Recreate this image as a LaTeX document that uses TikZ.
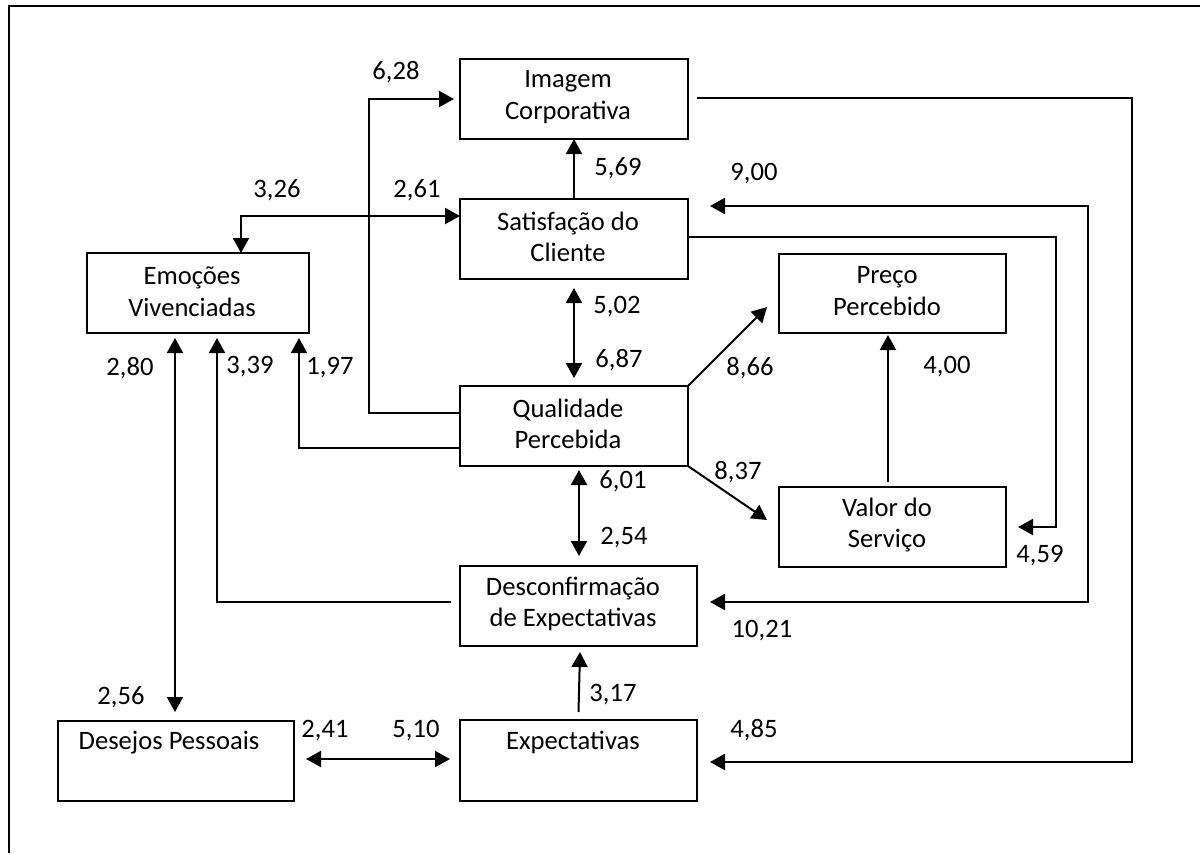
\documentclass[tikz,border=0pt]{standalone}
\usepackage{fontspec}
\setmainfont{Carlito}
\usetikzlibrary{arrows.meta,calc}
\begin{document}
\begin{tikzpicture}[x=0.5pt,y=-0.5pt,
  box/.style={draw, line width=1.2pt, inner sep=0pt, outer sep=0pt},
  wh/.style 2 args={minimum width=#1*0.5pt, minimum height=#2*0.5pt},
  txt/.style={align=center, inner sep=0pt, font=\fontsize{13.3pt}{15.8pt}\selectfont},
  lbl/.style={inner sep=0pt, font=\fontsize{13.3pt}{15.8pt}\selectfont},
  conn/.style={line width=1pt},
  arr/.style={conn, -{Triangle[length=7.5pt,width=8pt]}},
  arrtwo/.style={conn, {Triangle[length=7.5pt,width=8pt]}-{Triangle[length=7.5pt,width=8pt]}}
]
\useasboundingbox (0,0) rectangle (1200,853);
% frame
\draw[line width=0.8pt] (9,853) -- (9,6) -- (1200,6);
% boxes
\node[box, wh={228}{80}] (img) at (574,99) {};
\node[box, wh={228}{80}] (sat) at (574,239) {};
\node[box, wh={222}{80}] (emo) at (198,293) {};
\node[box, wh={227}{79}] (pre) at (892.5,293.5) {};
\node[box, wh={228}{80}] (qual) at (574,426) {};
\node[box, wh={227}{80}] (val) at (892.5,527) {};
\node[box, wh={237}{80}] (desc) at (578.5,606) {};
\node[box, wh={236}{80}] (des) at (176,761) {};
\node[box, wh={237}{81}] (exp) at (578.5,760.5) {};
% box texts
\node[txt] (imgt) at (568,97) {Imagem\\Corporativa};
\node[txt] (satt) at (568,237) {Satisfação do\\Cliente};
\node[txt] (emot) at (192,292) {Emoções\\Vivenciadas};
\node[txt] (pret) at (887,291) {Preço\\Percebido};
\node[txt] (qualt) at (568,424) {Qualidade\\Percebida};
\node[txt] (valt) at (887,525) {Valor do\\Serviço};
\node[txt] (desct) at (573,604) {Desconfirmação\\de Expectativas};
\node[txt] (dest) at (169,743) {Desejos Pessoais};
\node[txt] (expt) at (573,742) {Expectativas};
% connectors
\draw[arr] ($(qual.west)+(0,-13)$) -| (369,99) -- ($(img.west)+(-6,0)$);
\draw[arrtwo] ($(sat.west)+(0,-23)$) -| (emo.north -| 241,0);
\draw[arr] (sat.north) -- (img.south);
\draw[arrtwo] ($(sat.east)+(22,-33)$) -- (1088,206) -- (1088,602) -- ($(desc.east)+(13,-4)$);
\draw[arr] ($(sat.east)+(0,-2)$) -| (1056,527) -- ($(val.east)+(12,0)$);
\draw[arr] ($(img.east)+(9,-1)$) -- (1132,98) -- (1132,762) -- ($(exp.east)+(13,1.5)$);
\draw[arrtwo] ($(sat.south)+(0,9)$) -- ($(qual.north)+(0,-8)$);
\draw[arr] (qual.north east) -- ($(pre.west)+(-12,13.5)$);
\draw[arr] (qual.south east) -- ($(val.west)+(-12,-7)$);
\draw[arr] ($(val.north)+(-4.5,-5)$) -- ($(pre.south)+(-4.5,2)$);
\draw[arr] ($(qual.west)+(0,22)$) -| ($(emo.south)+(101,5)$);
\draw[arr] ($(desc.west)+(-9,-4)$) -| ($(emo.south)+(19,5)$);
\draw[arrtwo] ($(emo.south)+(-23,5)$) -- ($(des.north)+(-1,-9)$);
\draw[arrtwo] ($(qual.south)+(5,4)$) -- ($(desc.north)+(0.5,-10)$);
\draw[arr] ($(exp.north)+(0,-8)$) -- ($(desc.south)+(1.5,6)$);
\draw[arrtwo] ($(des.east)+(12,-2)$) -- ($(exp.west)+(-10,-1.5)$);
% labels
\node[lbl] (l628) at (396,72) {6,28};
\node[lbl] (l326) at (277,190) {3,26};
\node[lbl] (l261) at (417,190) {2,61};
\node[lbl] (l569) at (618,168) {5,69};
\node[lbl] (l900) at (754,174) {9,00};
\node[lbl] (l502) at (617,307) {5,02};
\node[lbl] (l687) at (619,360) {6,87};
\node[lbl] (l866) at (750,368) {8,66};
\node[lbl] (l400) at (947,367) {4,00};
\node[lbl] (l280) at (130,368) {2,80};
\node[lbl] (l339) at (250,367) {3,39};
\node[lbl] (l197) at (330,368) {1,97};
\node[lbl] (l837) at (738,472) {8,37};
\node[lbl] (l601) at (623,481) {6,01};
\node[lbl] (l254) at (624,538) {2,54};
\node[lbl] (l459) at (1040,556) {4,59};
\node[lbl] (l1021) at (762,631) {10,21};
\node[lbl] (l317) at (613,695) {3,17};
\node[lbl] (l256) at (121,697) {2,56};
\node[lbl] (l241) at (325,731) {2,41};
\node[lbl] (l510) at (416,731) {5,10};
\node[lbl] (l485) at (754,730) {4,85};
\end{tikzpicture}
\end{document}
